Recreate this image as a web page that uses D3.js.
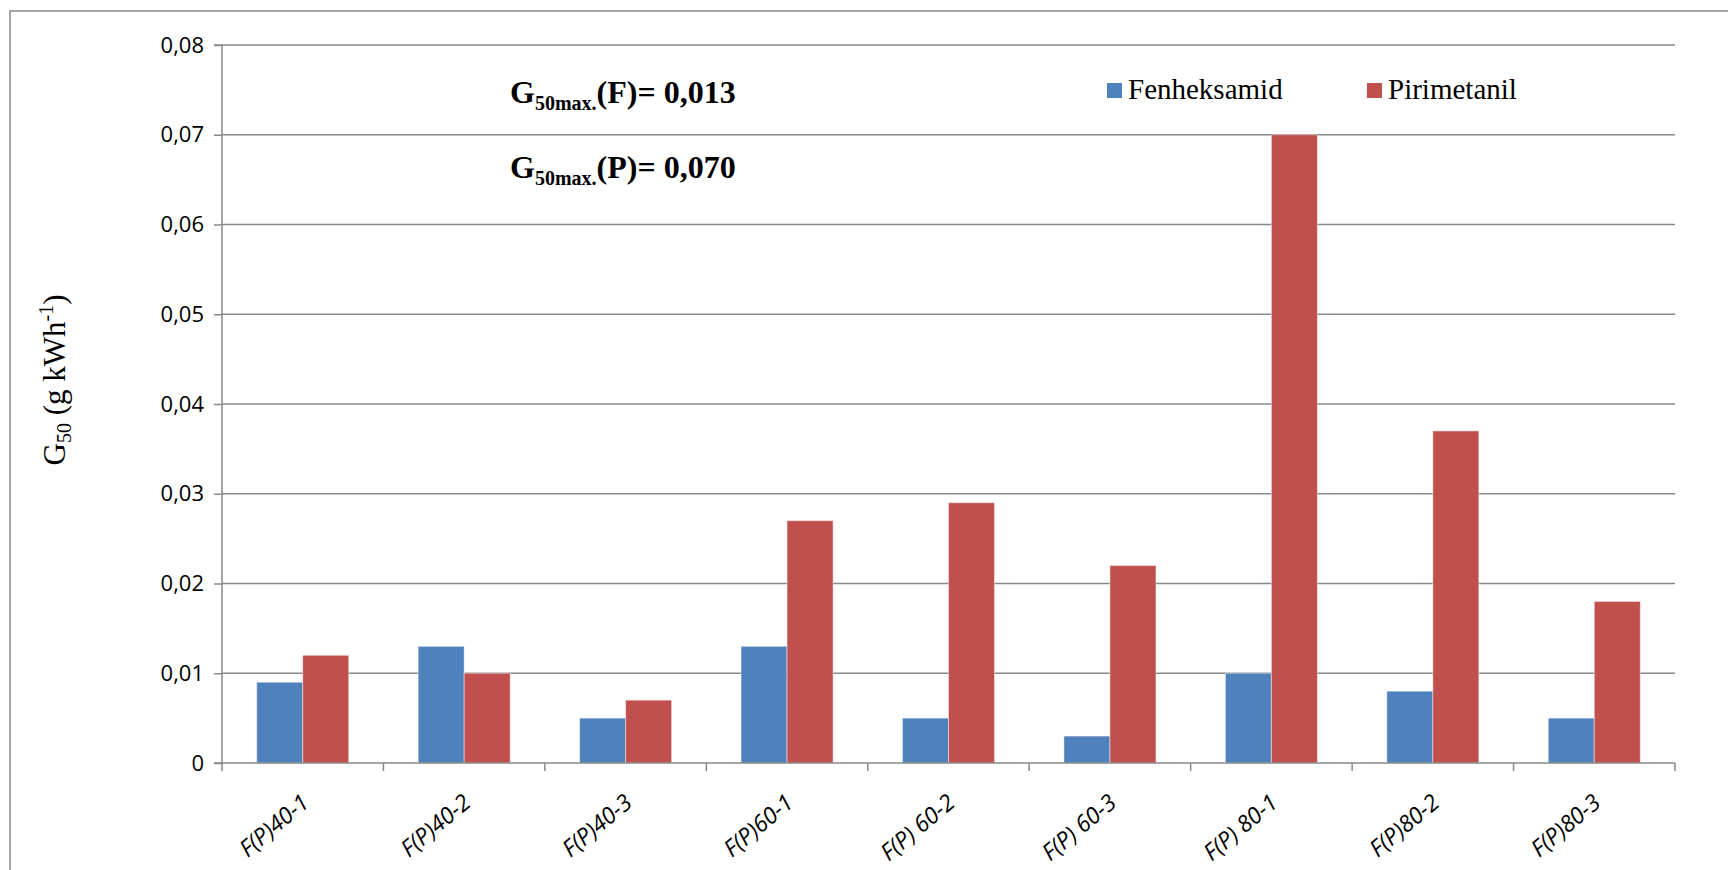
<!DOCTYPE html>
<html><head><meta charset="utf-8">
<script src="https://cdn.jsdelivr.net/npm/d3@7"></script>
<style>html,body{margin:0;padding:0;background:#fff;overflow:hidden}</style>
</head><body>
<svg id="c" width="1728" height="870"></svg>
<script>
const categories = ["F(P)40-1","F(P)40-2","F(P)40-3","F(P)60-1","F(P) 60-2","F(P) 60-3","F(P) 80-1","F(P)80-2","F(P)80-3"];
const fenheksamid = [0.009,0.013,0.005,0.013,0.005,0.003,0.010,0.008,0.005];
const pirimetanil = [0.012,0.010,0.007,0.027,0.029,0.022,0.070,0.037,0.018];
const seriesNames = ["Fenheksamid","Pirimetanil"];
const yTicks = [0,0.01,0.02,0.03,0.04,0.05,0.06,0.07,0.08];
const colors = ["#4F81BD","#C0504D"];

const svg = d3.select("#c");
const L = 222, R = 1675, T = 45, B = 763;
const grid = "#898989";

// outer frame
svg.append("rect").attr("x",10).attr("y",11).attr("width",1760).attr("height",900)
  .attr("fill","none").attr("stroke",grid).attr("stroke-width",1.5);

const x = d3.scaleBand().domain(categories).range([L,R]).padding(0);
const y = d3.scaleLinear().domain([0,0.08]).range([B,T]);

// gridlines
svg.append("g").selectAll("line").data(yTicks.filter(d=>d>0)).join("line")
  .attr("x1",L).attr("x2",R).attr("y1",d=>y(d)).attr("y2",d=>y(d))
  .attr("stroke",grid).attr("stroke-width",1.5);

// y axis
const yAxis = d3.axisLeft(y).tickValues(yTicks).tickSize(8).tickPadding(10)
  .tickFormat(d=> d===0 ? "0" : d3.format(".2f")(d).replace(".",","));
const gy = svg.append("g").attr("transform",`translate(${L},0)`).call(yAxis);
gy.select(".domain").attr("stroke",grid).attr("stroke-width",1.5).attr("d",`M-8,${T}H0V${B}`);
gy.selectAll(".tick line").attr("stroke",grid).attr("stroke-width",1.5);
gy.selectAll(".tick text").attr("font-family","'Open Sans'").attr("font-size",22).attr("fill","#000");

// bars
const bw = x.bandwidth()*0.285;
[fenheksamid, pirimetanil].forEach((vals,si)=>{
  svg.append("g").selectAll("rect").data(categories).join("rect")
    .attr("x",(d)=>x(d)+x.bandwidth()/2 - bw + si*bw)
    .attr("y",(d,i)=>y(vals[i]))
    .attr("width",bw)
    .attr("height",(d,i)=>y(0)-y(vals[i]))
    .attr("fill",colors[si])
    .attr("stroke","#ffffff").attr("stroke-opacity",0.45).attr("stroke-width",1);
});

// x axis
const gx = svg.append("g").attr("transform",`translate(0,${B})`);
gx.append("line").attr("x1",L-8).attr("x2",R).attr("y1",0).attr("y2",0)
  .attr("stroke",grid).attr("stroke-width",1.5);
const bounds = categories.map(c=>x(c)).concat([R]);
gx.selectAll("line.t").data(bounds).join("line").attr("class","t")
  .attr("x1",d=>d).attr("x2",d=>d).attr("y1",0).attr("y2",8)
  .attr("stroke",grid).attr("stroke-width",1.5);
gx.selectAll("text").data(categories).join("text")
  .attr("transform",d=>`translate(${x(d)+x.bandwidth()/2+8},${42}) rotate(-40)`)
  .attr("text-anchor","end")
  .attr("font-family","'Open Sans'").attr("font-style","italic").attr("font-size",23)
  .attr("fill","#000").text(d=>d);

// y title
const yt = svg.append("text").attr("transform","translate(65,380) rotate(-90)")
  .attr("text-anchor","middle").attr("font-family","'Liberation Serif'").attr("font-size",31).attr("fill","#000");
yt.append("tspan").text("G");
yt.append("tspan").attr("font-size",20).attr("dy",6).text("50");
yt.append("tspan").attr("dy",-6).text(" (g kWh");
yt.append("tspan").attr("font-size",20).attr("dy",-12).text("-1");
yt.append("tspan").attr("dy",12).text(")");

// annotations
const annots = [["F","0,013",103],["P","0,070",178]];
annots.forEach(a=>{
  const t = svg.append("text").attr("x",510).attr("y",a[2]).attr("font-family","'Liberation Serif'")
    .attr("font-weight","bold").attr("font-size",32).attr("fill","#000");
  t.append("tspan").text("G");
  t.append("tspan").attr("font-size",20).attr("dy",7).text("50max.");
  t.append("tspan").attr("dy",-7).text(`(${a[0]})= ${a[1]}`);
});

// legend
const legX = [1107,1367];
seriesNames.forEach((n,i)=>{
  svg.append("rect").attr("x",legX[i]).attr("y",83).attr("width",15).attr("height",15).attr("fill",colors[i]);
  svg.append("text").attr("x",legX[i]+21).attr("y",99).attr("font-family","'Liberation Serif'")
    .attr("font-size",29).attr("fill","#000").text(n);
});
</script>
</body></html>
